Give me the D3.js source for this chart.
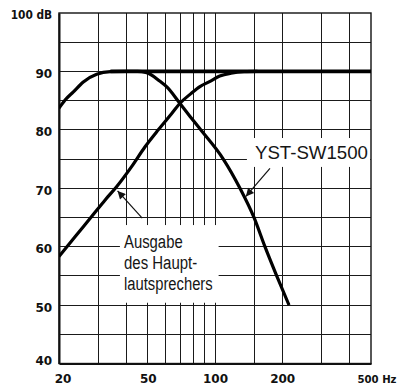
<!DOCTYPE html>
<html>
<head>
<meta charset="utf-8">
<script src="https://cdn.jsdelivr.net/npm/d3@7/dist/d3.min.js"></script>
<style>
  html, body { margin: 0; padding: 0; background: #fff; }
  svg { display: block; }
</style>
</head>
<body>
<svg id="chart" width="401" height="386"></svg>
<script>
// Frequency response: subwoofer vs. main speaker output (log frequency axis)

// Subwoofer curve (YST-SW1500)
const subFreq = [20, 21.3, 23.2, 25.7, 29.5, 34, 40, 45, 49.4, 56.7, 61, 69.7, 77.3, 86.3, 108.9, 129.4, 149.5, 167.4, 189, 214.6];
const subDb   = [83.7, 85.1, 86.5, 88.2, 89.5, 89.95, 90, 90, 89.8, 88.3, 87.3, 84.5, 82.3, 80, 75, 70, 65, 60, 55, 50];

// Main speaker output ("Ausgabe des Hauptlautsprechers")
const mainFreq = [20, 23.6, 28, 32.2, 36.3, 42.3, 48.6, 55.7, 64, 69.7, 78, 85.6, 95, 105, 118, 135, 155];
const mainDb   = [58.3, 61.7, 65.15, 68, 70.3, 73.7, 77.1, 80, 82.8, 84.55, 86.2, 87.4, 88.3, 89.2, 89.7, 89.95, 90];

// Combined flat response
const sumFreq = [34, 500];
const sumDb   = [90, 90];

// Axes and grid
const xTickValues = [20, 50, 100, 200, 500];
const xGridValues = [30, 40, 50, 60, 70, 80, 90, 100, 150, 200, 300, 400];
const yTickValues = [40, 50, 60, 70, 80, 90, 100];
const yGridValues = [45, 50, 55, 60, 65, 70, 75, 80, 85, 90, 95];

// Annotation labels
const subLabel = "YST-SW1500";
const mainLabelLines = ["Ausgabe", "des Haupt-", "lautsprechers"];

const svg = d3.select("#chart");

const x = d3.scaleLog().domain([20, 500]).range([59, 371]);
const y = d3.scaleLinear().domain([40, 100]).range([363.5, 13]);

const toPts = (fs, ds) => fs.map((f, i) => ({ f, db: ds[i] }));

// clip for curves
svg.append("defs").append("clipPath").attr("id", "plotClip")
  .append("rect")
  .attr("x", x(20)).attr("y", y(100))
  .attr("width", x(500) - x(20)).attr("height", y(40) - y(100));

const marker = svg.select("defs").append("marker")
  .attr("id", "arrowHead")
  .attr("viewBox", "0 0 10 10")
  .attr("refX", 10).attr("refY", 5)
  .attr("markerUnits", "userSpaceOnUse")
  .attr("markerWidth", 10).attr("markerHeight", 8)
  .attr("orient", "auto");
marker.append("path").attr("d", "M0,0 L10,5 L0,10 Z").attr("fill", "#111");

// grid
const grid = svg.append("g").attr("shape-rendering", "crispEdges").attr("stroke", "#1a1a1a").attr("stroke-width", 1);
grid.selectAll("line.v").data(xGridValues).join("line")
  .attr("class", "v")
  .attr("x1", d => x(d)).attr("x2", d => x(d))
  .attr("y1", y(100)).attr("y2", y(40));
grid.selectAll("line.h").data(yGridValues).join("line")
  .attr("class", "h")
  .attr("x1", x(20)).attr("x2", x(500))
  .attr("y1", d => y(d)).attr("y2", d => y(d));

// white label backgrounds over the grid
svg.append("rect")
  .attr("x", x(139)).attr("y", y(78.6))
  .attr("width", x(496) - x(139)).attr("height", y(73.65) - y(78.6))
  .attr("fill", "#fff");
svg.append("rect")
  .attr("x", x(37.5)).attr("y", y(63.7))
  .attr("width", x(103.8) - x(37.5)).attr("height", y(50.4) - y(63.7))
  .attr("fill", "#fff");

// frame
svg.append("rect")
  .attr("x", x(20)).attr("y", y(100))
  .attr("width", x(500) - x(20)).attr("height", y(40) - y(100))
  .attr("fill", "none").attr("stroke", "#111").attr("stroke-width", 1.4);

// axes
const yAxis = d3.axisLeft(y)
  .tickValues(yTickValues)
  .tickSize(0)
  .tickPadding(7)
  .tickFormat(d => d === 100 ? "100 dB" : String(d));
const gy = svg.append("g").attr("transform", `translate(${x(20)},0)`).call(yAxis);
gy.select(".domain").attr("stroke", "#111").attr("stroke-width", 2);
gy.selectAll(".tick text")
  .attr("font-family", "'DejaVu Sans', sans-serif")
  .attr("font-weight", "bold")
  .attr("font-size", 12)
  .attr("fill", "#111")
  .attr("dy", d => d === 40 ? "0.5" : (d === 100 ? "5.3" : "6"))
  .attr("x", -6.8);
gy.selectAll(".tick text").filter(d => d === 100)
  .attr("textLength", 41.5).attr("lengthAdjust", "spacingAndGlyphs");

const xAxis = d3.axisBottom(x)
  .tickValues(xTickValues)
  .tickSize(0)
  .tickFormat(d => d === 500 ? "500 Hz" : String(d));
const gx = svg.append("g").attr("transform", `translate(0,${y(40)})`).call(xAxis);
gx.select(".domain").attr("stroke", "#111").attr("stroke-width", 2);
gx.selectAll(".tick text")
  .attr("font-family", "'DejaVu Sans', sans-serif")
  .attr("font-weight", "bold")
  .attr("font-size", d => d === 500 ? 11 : 12)
  .attr("fill", "#111")
  .attr("y", 19.5)
  .attr("dy", null)
  .attr("x", d => d === 20 ? 3.5 : (d === 500 ? -14 : 0))
  .attr("text-anchor", d => d === 500 ? "start" : "middle");
gx.selectAll(".tick text").filter(d => d === 500)
  .attr("textLength", 39).attr("lengthAdjust", "spacingAndGlyphs");

// curves
const line = d3.line()
  .x(d => x(d.f))
  .y(d => y(d.db))
  .curve(d3.curveMonotoneX);

const curves = svg.append("g").attr("clip-path", "url(#plotClip)")
  .attr("fill", "none").attr("stroke", "#000")
  .attr("stroke-linejoin", "round").attr("stroke-linecap", "butt");

curves.append("path").datum(toPts(sumFreq, sumDb))
  .attr("d", line).attr("stroke-width", 3.6);
curves.append("path").datum(toPts(subFreq, subDb))
  .attr("d", line).attr("stroke-width", 3.2);
curves.append("path").datum(toPts(mainFreq, mainDb))
  .attr("d", line).attr("stroke-width", 3.2);

// annotation arrows
const arrows = [
  { from: { f: 176.3, db: 73.4 }, to: { f: 137.5, db: 68.6 } },
  { from: { f: 47.2, db: 64.9 }, to: { f: 36.6, db: 69.55 } }
];
svg.append("g").selectAll("line").data(arrows).join("line")
  .attr("x1", d => x(d.from.f)).attr("y1", d => y(d.from.db))
  .attr("x2", d => x(d.to.f)).attr("y2", d => y(d.to.db))
  .attr("stroke", "#111").attr("stroke-width", 1.2)
  .attr("marker-end", "url(#arrowHead)");

// annotation texts
svg.append("text")
  .attr("x", x(151)).attr("y", y(74.95))
  .attr("font-family", "'Liberation Sans', Arial, sans-serif")
  .attr("font-size", 19)
  .attr("fill", "#151515")
  .attr("textLength", 113).attr("lengthAdjust", "spacingAndGlyphs")
  .text(subLabel);

const mainLabelWidths = [58.7, 73.3, 88.7];
const mainLabelDy = [0, 20.4, 41.7];
svg.append("g").selectAll("text").data(mainLabelLines).join("text")
  .attr("x", x(39.1))
  .attr("y", (d, i) => y(59.74) + mainLabelDy[i])
  .attr("font-family", "'Liberation Sans', Arial, sans-serif")
  .attr("font-size", 18)
  .attr("fill", "#151515")
  .attr("textLength", (d, i) => mainLabelWidths[i])
  .attr("lengthAdjust", "spacingAndGlyphs")
  .text(d => d);
</script>
</body>
</html>
